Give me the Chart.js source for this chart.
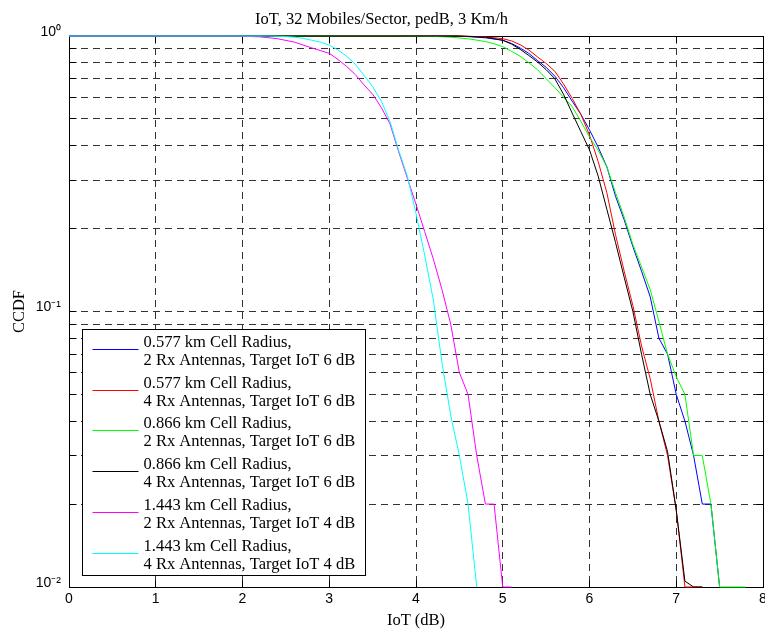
<!DOCTYPE html>
<html>
<head>
<meta charset="utf-8">
<script src="https://cdn.jsdelivr.net/npm/chart.js@4.4.1/dist/chart.umd.min.js"></script>
<style>
  html, body { margin: 0; padding: 0; background: #ffffff; }
  #wrap { width: 765px; height: 631px; }
</style>
</head>
<body>
<div id="wrap"><canvas id="ccdfChart"></canvas></div>
<script>
// legend entries, same order as the series below
const cellRadius = ["0.577", "0.577", "0.866", "0.866", "1.443", "1.443"];
const rxAntennas = [2, 4, 2, 4, 2, 4];
const targetIoT = [6, 6, 6, 6, 4, 4];

// 0.577 km, 2 Rx
const blueIoT  = [0, 4.4, 4.6, 4.8, 5.0, 5.1, 5.2, 5.3, 5.4, 5.5, 5.6, 5.7, 5.8, 5.9, 6.0, 6.1, 6.2, 6.3, 6.4, 6.5, 6.6, 6.7, 6.8, 6.9, 7.0, 7.1, 7.2, 7.3, 7.4, 7.5];
const blueCCDF = [1, 1, 0.995, 0.985, 0.965, 0.94, 0.905, 0.865, 0.815, 0.77, 0.715, 0.65, 0.58, 0.52, 0.456, 0.395, 0.335, 0.262, 0.215, 0.172, 0.14, 0.113, 0.08, 0.07, 0.05, 0.04, 0.03, 0.02, 0.02, 0.01];

// 0.577 km, 4 Rx
const redIoT  = [0, 4.5, 4.8, 5.0, 5.1, 5.2, 5.3, 5.4, 5.5, 5.6, 5.7, 5.8, 5.9, 6.0, 6.1, 6.2, 6.3, 6.4, 6.5, 6.6, 6.7, 6.8, 6.9, 7.0, 7.1, 7.2, 7.3];
const redCCDF = [1, 1, 0.993, 0.978, 0.96, 0.93, 0.89, 0.84, 0.795, 0.745, 0.67, 0.594, 0.52, 0.437, 0.35, 0.27, 0.19, 0.14, 0.105, 0.075, 0.057, 0.04, 0.03, 0.019, 0.01, 0.01, 0.01];

// 0.866 km, 2 Rx
const greenIoT  = [0, 3.8, 4.2, 4.4, 4.6, 4.8, 4.9, 5.0, 5.1, 5.2, 5.3, 5.4, 5.5, 5.6, 5.7, 5.8, 5.9, 6.0, 6.1, 6.2, 6.3, 6.4, 6.5, 6.6, 6.7, 6.8, 6.9, 7.0, 7.1, 7.2, 7.3, 7.4, 7.5, 7.6, 7.7, 7.8];
const greenCCDF = [1, 1, 0.997, 0.99, 0.977, 0.955, 0.937, 0.915, 0.88, 0.845, 0.8, 0.755, 0.7, 0.65, 0.6, 0.554, 0.49, 0.43, 0.385, 0.335, 0.27, 0.22, 0.175, 0.145, 0.12, 0.092, 0.07, 0.058, 0.05, 0.03, 0.03, 0.02, 0.01, 0.01, 0.01, 0.01];

// 0.866 km, 4 Rx
const blackIoT  = [0, 4.5, 4.8, 5.0, 5.1, 5.2, 5.3, 5.4, 5.5, 5.6, 5.7, 5.8, 5.9, 6.0, 6.1, 6.2, 6.3, 6.4, 6.5, 6.6, 6.7, 6.8, 6.9, 7.0, 7.1, 7.2, 7.3];
const blackCCDF = [1, 1, 0.99, 0.965, 0.935, 0.895, 0.85, 0.805, 0.755, 0.7, 0.615, 0.525, 0.45, 0.386, 0.31, 0.235, 0.178, 0.133, 0.1, 0.07, 0.05, 0.04, 0.031, 0.019, 0.0105, 0.01, 0.01];

// 1.443 km, 2 Rx
const magentaIoT  = [0, 1.8, 2.0, 2.2, 2.4, 2.6, 2.8, 3.0, 3.1, 3.2, 3.3, 3.4, 3.5, 3.6, 3.7, 3.8, 3.9, 4.0, 4.1, 4.2, 4.3, 4.4, 4.5, 4.6, 4.7, 4.8, 4.9, 5.0, 5.1];
const magentaCCDF = [1, 1, 0.998, 0.993, 0.978, 0.95, 0.905, 0.865, 0.822, 0.775, 0.725, 0.665, 0.615, 0.55, 0.48, 0.38, 0.305, 0.245, 0.195, 0.155, 0.12, 0.09, 0.06, 0.05, 0.03, 0.02, 0.02, 0.01, 0.01];

// 1.443 km, 4 Rx
const cyanIoT  = [0, 2.3, 2.5, 2.6, 2.7, 2.8, 2.9, 3.0, 3.1, 3.2, 3.3, 3.4, 3.5, 3.6, 3.7, 3.8, 3.9, 4.0, 4.1, 4.2, 4.3, 4.4, 4.5, 4.6, 4.7];
const cyanCCDF = [1, 1, 0.995, 0.99, 0.98, 0.965, 0.95, 0.927, 0.89, 0.845, 0.79, 0.72, 0.655, 0.58, 0.49, 0.385, 0.31, 0.227, 0.16, 0.11, 0.065, 0.042, 0.03, 0.02, 0.01];

const xTicks = [0, 1, 2, 3, 4, 5, 6, 7, 8];
const yMajorTicks = [1, 0.1, 0.01];
const yMajorLabels = ["10\u2070", "10\u207B\u00B9", "10\u207B\u00B2"];

const seriesX = [blueIoT, redIoT, greenIoT, blackIoT, magentaIoT, cyanIoT];
const seriesY = [blueCCDF, redCCDF, greenCCDF, blackCCDF, magentaCCDF, cyanCCDF];
const lineColors = ["#0000ff", "#ff0000", "#00ff00", "#000000", "#ff00ff", "#00ffff"];

const serif = "'Liberation Serif', 'Times New Roman', serif";
const sans = "'Liberation Sans', Arial, sans-serif";

const datasets = seriesX.map((xs, i) => {
    const lines = [cellRadius[i] + " km Cell Radius,", rxAntennas[i] + " Rx Antennas, Target IoT " + targetIoT[i] + " dB"];
    return {
        label: lines.join(" "),
        legendLines: lines,
        data: xs.map((x, j) => ({x: x, y: seriesY[i][j]})),
        borderColor: lineColors[i],
        backgroundColor: lineColors[i],
        borderWidth: 1,
        pointRadius: 0,
        tension: 0,
        fill: false,
        clip: 2,
        order: seriesX.length - i   // later series on top, like matlab
    };
});

function crisp(v) { return Math.round(v - 0.5) + 0.5; }

// axes box + inward ticks, under the curves
const axesBox = {
    id: "axesBox",
    beforeDatasetsDraw(chart) {
        const ctx = chart.ctx, a = chart.chartArea;
        const xs = chart.scales.x, ys = chart.scales.y;
        const L = crisp(a.left), R = crisp(a.right), T = crisp(a.top), B = crisp(a.bottom);
        const tl = 7;
        ctx.save();
        ctx.strokeStyle = "#000";
        ctx.lineWidth = 1;
        ctx.beginPath();
        xs.ticks.forEach(t => {
            const p = crisp(xs.getPixelForValue(t.value));
            ctx.moveTo(p, B); ctx.lineTo(p, B - tl);
            ctx.moveTo(p, T); ctx.lineTo(p, T + tl);
        });
        ys.ticks.forEach(t => {
            const p = crisp(ys.getPixelForValue(t.value));
            ctx.moveTo(L, p); ctx.lineTo(L + tl, p);
            ctx.moveTo(R, p); ctx.lineTo(R - tl, p);
        });
        ctx.stroke();
        ctx.strokeRect(L, T, R - L, B - T);
        ctx.restore();
    }
};

// legend box inside the plot, two text lines per entry
const boxLegend = {
    id: "boxLegend",
    afterDatasetsDraw(chart) {
        const ctx = chart.ctx, a = chart.chartArea;
        const rowH = 40.7;
        const n = chart.data.datasets.length;
        const left = crisp(a.left + 13), right = crisp(a.left + 296);
        const bottom = crisp(a.bottom - 12);
        const top = crisp(bottom - rowH * n - 2);
        ctx.save();
        ctx.fillStyle = "#fff";
        ctx.fillRect(left, top, right - left, bottom - top);
        ctx.strokeStyle = "#000";
        ctx.lineWidth = 1;
        ctx.strokeRect(left, top, right - left, bottom - top);
        ctx.font = "16.5px " + serif;
        ctx.textBaseline = "alphabetic";
        ctx.textAlign = "left";
        chart.data.datasets.forEach((ds, i) => {
            const y = Math.round(top + 19.5 + rowH * i) + 0.5;
            ctx.strokeStyle = ds.borderColor;
            ctx.beginPath();
            ctx.moveTo(left + 10, y);
            ctx.lineTo(left + 56, y);
            ctx.stroke();
            ctx.fillStyle = "#000";
            ctx.fillText(ds.legendLines[0], left + 61, y - 2.6);
            ctx.fillText(ds.legendLines[1], left + 61, y + 15.7);
        });
        ctx.restore();
    }
};

const ccdfCanvas = document.getElementById("ccdfChart");
const ccdfCtx = ccdfCanvas.getContext("2d");

const ccdfChart = new Chart(ccdfCtx, {
    type: "line",
    data: { datasets: datasets },
    plugins: [axesBox, boxLegend],
    options: {
        responsive: true,
        maintainAspectRatio: false,
        animation: false,
        devicePixelRatio: 1,
        layout: { padding: { top: 0, right: 2, bottom: 0, left: 0 } },
        plugins: {
            legend: { display: false },
            tooltip: { enabled: false },
            title: {
                display: true,
                text: "IoT, 32 Mobiles/Sector, pedB, 3 Km/h",
                color: "#000",
                font: { family: serif, size: 16.5, weight: "normal", lineHeight: 1.2 },
                padding: { top: 9.6, bottom: 6.6 }
            }
        },
        scales: {
            x: {
                type: "linear",
                min: 0,
                max: 8,
                afterBuildTicks: s => { s.ticks = xTicks.map(v => ({value: v})); },
                afterFit: s => { s.height = 44; s.paddingLeft = 0; s.paddingRight = 0; },
                ticks: {
                    color: "#000",
                    padding: 3.5,
                    autoSkip: false,
                    maxRotation: 0,
                    font: { family: sans, size: 14 }
                },
                grid: { color: "#333", lineWidth: 1, drawTicks: false },
                border: { display: false, dash: [7, 5] },
                title: {
                    display: true,
                    text: "IoT (dB)",
                    color: "#000",
                    font: { family: serif, size: 16.5, lineHeight: 1.2 },
                    padding: { top: 0, bottom: 0 }
                }
            },
            y: {
                type: "logarithmic",
                min: 0.01,
                max: 1,
                afterBuildTicks: s => {
                    const vals = [];
                    for (let d = yMajorTicks.length - 1; d > 0; d--) {
                        for (let k = 1; k <= 9; k++) vals.push(Number((k * yMajorTicks[d]).toPrecision(3)));
                    }
                    vals.push(yMajorTicks[0]);
                    s.ticks = vals.map(v => ({value: v}));
                },
                afterFit: s => { s.width = 69; s.paddingTop = 0; s.paddingBottom = 0; },
                ticks: {
                    color: "#000",
                    padding: 8,
                    autoSkip: false,
                    labelOffset: -4,
                    font: { family: sans, size: 14 },
                    callback: v => {
                        const k = yMajorTicks.findIndex(m => Math.abs(m - v) < 1e-9);
                        return k >= 0 ? yMajorLabels[k] : "";
                    }
                },
                grid: { color: "#333", lineWidth: 1, drawTicks: false },
                border: { display: false, dash: [7, 5] },
                title: {
                    display: true,
                    text: "CCDF",
                    color: "#000",
                    font: { family: serif, size: 16.5, lineHeight: 1.2 },
                    padding: { top: 10, bottom: 0 }
                }
            }
        }
    }
});
</script>
</body>
</html>
